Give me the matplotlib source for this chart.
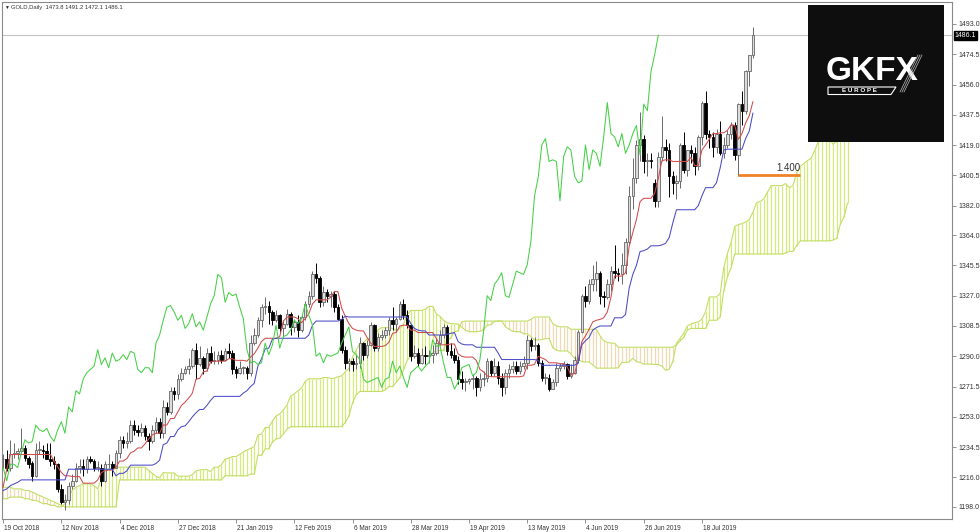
import matplotlib
matplotlib.use("Agg")
import matplotlib.pyplot as plt
from matplotlib.patches import Rectangle, Polygon
from matplotlib.lines import Line2D
import matplotlib.transforms as mtransforms
import numpy as np

plt.rcParams["font.family"] = ["Liberation Sans", "DejaVu Sans"]

# daily OHLC, 19 Oct 2018 .. 7 Aug 2019
opens = [
    1227, 1227, 1222, 1230, 1231, 1232, 1234, 1228, 1225, 1217,
    1233, 1233, 1232, 1227, 1226, 1224, 1209, 1201, 1202, 1211,
    1214, 1222, 1223, 1221, 1227, 1226, 1222, 1222, 1214, 1224,
    1224, 1222, 1231, 1239, 1237, 1238, 1248, 1245, 1244, 1246,
    1241, 1238, 1245, 1250, 1243, 1259, 1256, 1269, 1267, 1276,
    1280, 1282, 1284, 1294, 1285, 1289, 1283, 1292, 1287, 1288,
    1291, 1288, 1293, 1292, 1282, 1280, 1283, 1283, 1280, 1298,
    1303, 1312, 1320, 1321, 1317, 1312, 1315, 1307, 1310, 1316,
    1308, 1311, 1306, 1314, 1322, 1327, 1340, 1338, 1323, 1329,
    1327, 1328, 1320, 1313, 1294, 1286, 1287, 1285, 1286, 1298,
    1291, 1297, 1309, 1295, 1302, 1303, 1306, 1312, 1310, 1313,
    1322, 1315, 1309, 1290, 1292, 1286, 1291, 1290, 1291, 1292,
    1298, 1303, 1308, 1293, 1291, 1288, 1276, 1274, 1275, 1276,
    1277, 1271, 1276, 1277, 1287, 1280, 1284, 1277, 1271, 1280,
    1282, 1284, 1281, 1284, 1286, 1300, 1296, 1297, 1286, 1277,
    1277, 1270, 1274, 1283, 1284, 1285, 1278, 1280, 1288, 1305,
    1327, 1324, 1334, 1337, 1341, 1327, 1326, 1334, 1342, 1341,
    1340, 1346, 1360, 1388, 1399, 1419, 1423, 1409, 1410, 1396,
    1385, 1412, 1418, 1416, 1400, 1396, 1397, 1419, 1404, 1416,
    1414, 1406, 1424, 1445, 1426, 1424, 1418, 1426, 1414, 1419,
    1426, 1431, 1413, 1444, 1440, 1464, 1473.8,
]
highs = [
    1230, 1233, 1239, 1237, 1234, 1246, 1236, 1229, 1226, 1237,
    1238, 1236, 1237, 1237, 1229, 1225, 1212, 1206, 1213, 1218,
    1225, 1227, 1227, 1229, 1229, 1227, 1226, 1224, 1226, 1230,
    1226, 1233, 1241, 1241, 1244, 1251, 1251, 1248, 1249, 1248,
    1243, 1248, 1253, 1252, 1263, 1262, 1271, 1271, 1279, 1283,
    1284, 1289, 1295, 1298, 1296, 1290, 1295, 1296, 1293, 1293,
    1294, 1295, 1298, 1294, 1284, 1287, 1284, 1284, 1303, 1307,
    1314, 1322, 1326, 1324, 1318, 1318, 1316, 1312, 1319, 1317,
    1313, 1315, 1315, 1324, 1330, 1342, 1347, 1339, 1333, 1331,
    1330, 1330, 1322, 1315, 1296, 1289, 1289, 1291, 1302, 1299,
    1300, 1311, 1310, 1304, 1306, 1308, 1314, 1320, 1314, 1324,
    1325, 1318, 1310, 1297, 1295, 1295, 1296, 1294, 1297, 1301,
    1306, 1310, 1309, 1298, 1295, 1290, 1281, 1277, 1277, 1279,
    1278, 1280, 1281, 1289, 1288, 1289, 1287, 1280, 1282, 1285,
    1287, 1287, 1287, 1290, 1303, 1301, 1302, 1298, 1288, 1280,
    1279, 1276, 1286, 1286, 1287, 1286, 1285, 1290, 1306, 1328,
    1333, 1337, 1346, 1348, 1342, 1330, 1337, 1345, 1358, 1344,
    1353, 1362, 1394, 1411, 1422, 1439, 1425, 1414, 1414, 1398,
    1415, 1437, 1423, 1420, 1403, 1401, 1420, 1427, 1416, 1419,
    1418, 1425, 1446, 1452, 1428, 1427, 1429, 1434, 1424, 1428,
    1433, 1433, 1445, 1452, 1465, 1474, 1491.2,
]
lows = [
    1222, 1220, 1220, 1228, 1227, 1231, 1226, 1222, 1214, 1216,
    1230, 1228, 1229, 1223, 1221, 1207, 1200, 1196, 1200, 1209,
    1213, 1219, 1217, 1219, 1225, 1220, 1220, 1211, 1213, 1222,
    1217, 1222, 1228, 1234, 1234, 1237, 1242, 1241, 1241, 1239,
    1233, 1237, 1243, 1240, 1240, 1254, 1255, 1263, 1264, 1275,
    1279, 1279, 1283, 1276, 1284, 1279, 1281, 1286, 1285, 1285,
    1286, 1287, 1289, 1279, 1277, 1279, 1279, 1276, 1278, 1297,
    1302, 1308, 1316, 1310, 1309, 1311, 1305, 1302, 1309, 1303,
    1305, 1302, 1305, 1312, 1320, 1325, 1335, 1320, 1321, 1323,
    1320, 1317, 1312, 1292, 1282, 1281, 1281, 1282, 1283, 1288,
    1289, 1296, 1293, 1293, 1300, 1301, 1303, 1306, 1305, 1312,
    1313, 1307, 1287, 1289, 1284, 1285, 1285, 1286, 1286, 1291,
    1297, 1301, 1291, 1289, 1286, 1273, 1270, 1269, 1273, 1270,
    1266, 1269, 1272, 1274, 1278, 1278, 1273, 1266, 1267, 1277,
    1280, 1279, 1279, 1282, 1282, 1293, 1294, 1284, 1275, 1273,
    1269, 1270, 1272, 1281, 1282, 1276, 1277, 1279, 1286, 1304,
    1320, 1322, 1330, 1330, 1322, 1320, 1325, 1330, 1338, 1336,
    1334, 1340, 1358, 1380, 1396, 1409, 1402, 1400, 1405, 1381,
    1381, 1409, 1409, 1387, 1389, 1386, 1393, 1402, 1400, 1408,
    1401, 1404, 1419, 1423, 1417, 1412, 1414, 1413, 1411, 1417,
    1423, 1410, 1400, 1431, 1438, 1455, 1472.1,
]
closes = [
    1227, 1222, 1230, 1231, 1232, 1234, 1228, 1224, 1217, 1233,
    1233, 1232, 1227, 1226, 1224, 1209, 1201, 1202, 1211, 1214,
    1222, 1223, 1221, 1227, 1226, 1222, 1222, 1214, 1224, 1224,
    1222, 1231, 1239, 1237, 1238, 1248, 1245, 1244, 1246, 1241,
    1238, 1245, 1250, 1243, 1259, 1256, 1269, 1267, 1276, 1280,
    1282, 1284, 1294, 1285, 1289, 1283, 1292, 1287, 1288, 1291,
    1288, 1293, 1292, 1282, 1280, 1283, 1283, 1280, 1298, 1303,
    1312, 1320, 1321, 1317, 1312, 1315, 1307, 1310, 1316, 1308,
    1311, 1306, 1314, 1322, 1327, 1340, 1338, 1323, 1329, 1327,
    1328, 1320, 1313, 1294, 1286, 1287, 1285, 1286, 1298, 1291,
    1297, 1309, 1295, 1302, 1303, 1306, 1312, 1310, 1313, 1322,
    1315, 1309, 1290, 1292, 1286, 1291, 1290, 1291, 1292, 1298,
    1303, 1308, 1293, 1291, 1288, 1276, 1274, 1275, 1276, 1277,
    1271, 1276, 1277, 1287, 1280, 1284, 1277, 1271, 1280, 1282,
    1284, 1281, 1284, 1286, 1300, 1296, 1297, 1286, 1277, 1277,
    1270, 1274, 1283, 1284, 1285, 1278, 1280, 1288, 1305, 1327,
    1324, 1334, 1337, 1341, 1327, 1326, 1334, 1342, 1341, 1340,
    1346, 1360, 1388, 1399, 1419, 1423, 1409, 1410, 1409, 1385,
    1412, 1418, 1416, 1400, 1396, 1397, 1419, 1404, 1416, 1414,
    1406, 1424, 1445, 1426, 1424, 1418, 1426, 1414, 1419, 1426,
    1431, 1413, 1444, 1440, 1464, 1474, 1486.1,
]

# Ichimoku lines as drawn on the chart
tenkan = [
    1210, 1221, 1230, 1230, 1230, 1230, 1230, 1230, 1230, 1230,
    1230, 1230, 1230, 1230, 1226, 1222.5, 1219, 1217, 1217, 1216.5,
    1216.5, 1216.5, 1212.5, 1212.5, 1212.5, 1212.5, 1214.5, 1219, 1220, 1220.5,
    1220.5, 1222, 1226, 1226, 1227.5, 1231, 1232, 1234, 1234, 1236.5,
    1239.5, 1242, 1243, 1243, 1248, 1248, 1252, 1252, 1256, 1260,
    1262, 1264.5, 1267.5, 1276, 1276.5, 1280.5, 1281, 1286.5, 1287, 1287,
    1287, 1287, 1288.5, 1288.5, 1287.5, 1287.5, 1287.5, 1287, 1289.5, 1291.5,
    1295, 1299, 1301, 1301, 1301, 1301, 1302, 1311.5, 1314, 1314,
    1314, 1313, 1310.5, 1313, 1316, 1322, 1324.5, 1324.5, 1324.5, 1324.5,
    1326, 1329.5, 1329.5, 1319.5, 1314.5, 1310, 1307, 1306, 1305.5, 1305.5,
    1301.5, 1298, 1296, 1296, 1296, 1296.5, 1298.5, 1304, 1304.5, 1308.5,
    1309, 1309, 1306, 1306, 1304.5, 1304.5, 1304.5, 1304.5, 1304.5, 1301,
    1297, 1297, 1297, 1297.5, 1297.5, 1291.5, 1290, 1289.5, 1289.5, 1289.5,
    1287.5, 1282, 1280.5, 1278, 1277.5, 1277.5, 1277.5, 1277.5, 1277.5, 1277.5,
    1277.5, 1277.5, 1277.5, 1278, 1284.5, 1284.5, 1285, 1290, 1289, 1288,
    1286, 1286, 1286, 1285.5, 1285.5, 1283.5, 1278.5, 1279.5, 1287.5, 1299,
    1302.5, 1306.5, 1311, 1312, 1312.5, 1313.5, 1317, 1326, 1339, 1339,
    1339, 1341, 1357, 1365.5, 1373.5, 1384.5, 1386.5, 1386.5, 1386.5, 1389.5,
    1398.5, 1409.5, 1410, 1410, 1409, 1409, 1409, 1409, 1409, 1411.5,
    1406.5, 1406.5, 1416, 1419, 1422.5, 1426, 1426, 1426.5, 1426.5, 1428,
    1431.5, 1431, 1422.5, 1426, 1432.5, 1437, 1445.5,
]
kijun = [
    1208, 1209, 1211, 1212, 1213, 1214.5, 1214.5, 1214.5, 1214.5, 1214.5,
    1214.5, 1214.5, 1214.5, 1214.5, 1214.5, 1214.5, 1214.5, 1214.5, 1221, 1221,
    1221, 1221, 1221, 1221, 1221, 1221, 1221, 1221, 1221, 1221,
    1221, 1217, 1218.5, 1218.5, 1220, 1223.5, 1223.5, 1223.5, 1223.5, 1223.5,
    1223.5, 1223.5, 1224.5, 1226.5, 1236, 1237, 1241, 1241, 1245, 1247,
    1247.5, 1250, 1253, 1255.5, 1257.5, 1257.5, 1260, 1263, 1265.5, 1265.5,
    1265.5, 1265.5, 1265.5, 1265.5, 1265.5, 1265.5, 1267.5, 1269, 1271.5, 1273.5,
    1284, 1288.5, 1294.5, 1295, 1300.5, 1301, 1301, 1301, 1301, 1301,
    1301, 1301, 1301, 1301, 1303, 1309, 1311.5, 1311.5, 1311.5, 1311.5,
    1311.5, 1311.5, 1311.5, 1312.5, 1314.5, 1314, 1314, 1314, 1314, 1314,
    1314, 1314, 1314, 1314, 1314, 1314, 1314, 1314, 1314, 1314,
    1314, 1314, 1310, 1307, 1306, 1305.5, 1305.5, 1303, 1303, 1303,
    1303, 1303, 1303.5, 1304, 1304.5, 1299, 1297.5, 1297, 1297, 1297,
    1295.5, 1295.5, 1295.5, 1295.5, 1295.5, 1295.5, 1292, 1288, 1288, 1288,
    1288, 1288, 1288, 1288, 1288, 1288, 1288, 1287.5, 1284.5, 1284.5,
    1284.5, 1284.5, 1284.5, 1284.5, 1284.5, 1284.5, 1284.5, 1284.5, 1286, 1297,
    1299.5, 1301.5, 1306, 1307.5, 1308.5, 1308.5, 1308.5, 1308.5, 1313.5, 1313.5,
    1313.5, 1315.5, 1331.5, 1340, 1345.5, 1354, 1354.5, 1355.5, 1357.5, 1357.5,
    1357.5, 1358, 1359, 1362.5, 1371.5, 1379.5, 1379.5, 1379.5, 1379.5, 1379.5,
    1379.5, 1382, 1388, 1393, 1393, 1393, 1396, 1405, 1416, 1416.5,
    1416.5, 1416.5, 1416.5, 1416.5, 1423, 1427.5, 1438.5,
]

# Senkou spans, already in their drawn position (26 bars ahead)
span_a = [
    1203, 1203, 1204, 1204, 1204, 1204, 1203, 1203, 1202, 1202,
    1201, 1200, 1200, 1199, 1199, 1198, 1198, 1200, 1204, 1208,
    1210, 1211, 1212, 1212, 1212, 1211,
    1209, 1215, 1220.5, 1221, 1221.5, 1222.25, 1222.25, 1222.25, 1222.25, 1222.25,
    1222.25, 1222.25, 1222.25, 1222.25, 1220.25, 1218.5, 1216.75, 1215.75, 1219, 1218.75,
    1218.75, 1218.75, 1216.75, 1216.75, 1216.75, 1216.75, 1217.75, 1220, 1220.5, 1220.75,
    1220.75, 1219.5, 1222.25, 1222.25, 1223.75, 1227.25, 1227.75, 1228.75, 1228.75, 1230,
    1231.5, 1232.75, 1233.75, 1234.75, 1242, 1242.5, 1246.5, 1246.5, 1250.5, 1253.5,
    1254.75, 1257.25, 1260.25, 1265.75, 1267, 1269, 1270.5, 1274.75, 1276.25, 1276.25,
    1276.25, 1276.25, 1277, 1277, 1276.5, 1276.5, 1277.5, 1278, 1280.5, 1282.5,
    1289.5, 1293.75, 1297.75, 1298, 1300.75, 1301, 1301.5, 1306.25, 1307.5, 1307.5,
    1307.5, 1307, 1305.75, 1307, 1309.5, 1315.5, 1318, 1318, 1318, 1318,
    1318.75, 1320.5, 1320.5, 1316, 1314.5, 1312, 1310.5, 1310, 1309.75, 1309.75,
    1307.75, 1306, 1305, 1305, 1305, 1305.25, 1306.25, 1309, 1309.25, 1311.25,
    1311.5, 1311.5, 1308, 1306.5, 1305.25, 1305, 1305, 1303.75, 1303.75, 1302,
    1300, 1300, 1300.25, 1300.75, 1301, 1295.25, 1293.75, 1293.25, 1293.25, 1293.25,
    1291.5, 1288.75, 1288, 1286.75, 1286.5, 1286.5, 1284.75, 1282.75, 1282.75, 1282.75,
    1282.75, 1282.75, 1282.75, 1283, 1286.25, 1286.25, 1286.5, 1288.75, 1286.75, 1286.25,
    1285.25, 1285.25, 1285.25, 1285, 1285, 1284, 1281.5, 1282, 1286.75, 1298,
    1301, 1304, 1308.5, 1309.75, 1310.5, 1311, 1312.75, 1317.25, 1326.25, 1326.25,
    1326.25, 1328.25, 1344.25, 1352.75, 1359.5, 1369.25, 1370.5, 1371, 1372, 1373.5,
    1378, 1383.75, 1384.5, 1386.25, 1390.25, 1394.25, 1394.25, 1394.25, 1394.25, 1395.5,
    1393, 1394.25, 1402, 1406, 1407.75, 1409.5, 1411, 1415.75, 1421.25, 1422.25,
    1424, 1423.75, 1419.5, 1421.25, 1427.75, 1432.25, 1442,
]
span_b = (
    [1210, 1210, 1210, 1209, 1209, 1209, 1208, 1208, 1207, 1206,
     1205, 1204, 1203, 1202, 1201, 1200, 1199]
    + [1198] * 15 + [1214.5] * 29 + [1217] * 7 + [1218] * 2
    + [1229.5, 1229.5, 1233.5, 1233.5, 1237.5, 1239.5, 1240, 1242.5, 1245.5]
    + [1247] * 15
    + [1249.5, 1253.5, 1261.5, 1266.5] + [1268.5] * 7
    + [1269.5, 1271.5, 1271.5, 1274, 1277, 1281.5, 1287.5] + [1290] * 6
    + [1292] + [1293.5] * 3 + [1300.5, 1301, 1305, 1305.5, 1311]
    + [1311.5] * 18 + [1312.5] + [1314] * 5
    + [1310, 1308.5, 1308, 1308, 1308] + [1306.5] * 8
    + [1302.5, 1299.5, 1298.5, 1298, 1298] + [1295.5] * 16
    + [1297, 1299.5, 1301.5, 1306] + [1307] * 5 + [1312] * 3
    + [1314, 1330, 1338.5, 1344] + [1352.5] * 14
    + [1353, 1354, 1354, 1357.5] + [1360.5] * 9
    + [1361, 1362, 1370.5, 1375, 1383.5]
)

date_labels = ["19 Oct 2018", "12 Nov 2018", "4 Dec 2018", "27 Dec 2018",
               "21 Jan 2019", "12 Feb 2019", "6 Mar 2019", "28 Mar 2019",
               "19 Apr 2019", "13 May 2019", "4 Jun 2019", "26 Jun 2019",
               "18 Jul 2019"]
price_ticks = [1493.0, 1474.5, 1456.0, 1437.5, 1419.0, 1400.5, 1382.0, 1364.0,
               1345.5, 1327.0, 1308.5, 1290.0, 1271.5, 1253.0, 1234.5, 1216.0,
               1198.0]
header = "GOLD,Daily  1473.8 1491.2 1472.1 1486.1"
last_price = 1486.1
level_price = 1401.0
level_text = "1.400"
level_from, level_to = 202, 219

W, H = 980, 532
fig = plt.figure(figsize=(W / 100, H / 100), dpi=100)
fig.patch.set_facecolor("white")
ax = fig.add_axes([2 / W, 13 / H, 950 / W, 517 / H])

n = len(closes)
x = np.arange(n)
xc = np.arange(len(span_a))
sa = np.array(span_a)
sb = np.array(span_b)

# cloud: vertical hatch between the spans
up = sa >= sb
ax.vlines(xc[up], sb[up], sa[up], colors="#d2ec7a", linewidth=0.9, zorder=1)
ax.vlines(xc[~up], sa[~up], sb[~up], colors="#f0dab2", linewidth=0.9, zorder=1)
ax.plot(xc, sa, color="#c2de66", linewidth=0.8, zorder=1.5)
ax.plot(xc, sb, color="#c2de66", linewidth=0.8, zorder=1.5)

# candles
o = np.array(opens, dtype=float)
c = np.array(closes, dtype=float)
bull = c >= o
wick_cols = np.where(bull, "#6a6a6a", "#000000")
ax.vlines(x, lows, highs, colors=wick_cols, linewidth=0.7, zorder=3)
bottoms = np.minimum(o, c)
heights = np.maximum(np.abs(c - o), 0.5)
ax.bar(x[bull], heights[bull], bottom=bottoms[bull], width=0.7,
       color="#dcdcdc", edgecolor="#666666", linewidth=0.6, zorder=4)
ax.bar(x[~bull], heights[~bull], bottom=bottoms[~bull], width=0.7,
       color="#000000", edgecolor="#000000", linewidth=0.6, zorder=4)

# ichimoku lines
ax.plot(x, tenkan, color="#d24b4b", linewidth=0.75, zorder=5)
ax.plot(x, kijun, color="#4b4bc8", linewidth=0.75, zorder=5)
ax.plot(x[:n - 26], closes[26:], color="#46d046", linewidth=0.75, zorder=5)

# current price line and the marked level
ax.axhline(last_price, color="#c4c4c4", linewidth=0.8, zorder=0.5)
ax.plot([level_from, level_to], [level_price, level_price],
        color="#f08228", linewidth=2.0, zorder=6, solid_capstyle="butt")
ax.text(level_to, level_price + 1.2, level_text, ha="right", va="bottom",
        fontsize=7, color="#333333", zorder=6)

ax.set_xlim(-0.3, 260.7)
ax.set_ylim(1190.6, 1506.4)

ax.yaxis.tick_right()
ax.set_yticks(price_ticks)
ax.set_yticklabels([f"{v:.1f}" for v in price_ticks])
ax.set_xticks(np.arange(len(date_labels)) * 16)
ax.set_xticklabels(date_labels, ha="left")
ax.tick_params(axis="both", length=3, width=0.6, color="#808080",
               labelcolor="#333333", pad=1.5)
ax.tick_params(axis="y", labelsize=5)
ax.tick_params(axis="x", labelsize=4.7)
for lab in ax.get_xticklabels():
    lab.set_transform(lab.get_transform() + mtransforms.ScaledTranslation(1 / 100, 0, fig.dpi_scale_trans))
for sp in ax.spines.values():
    sp.set_color("#8a8a8a")
    sp.set_linewidth(0.8)

# last price box on the scale
trans = mtransforms.blended_transform_factory(ax.transAxes, ax.transData)
ax.text(1.003, last_price, f"{last_price:.1f}", transform=trans, ha="left",
        va="center", fontsize=5, color="white", zorder=10, clip_on=False,
        bbox=dict(boxstyle="square,pad=0.15", facecolor="black", edgecolor="black"))

# header
fig.text(4 / W, 1 - 7.5 / H, "\u25bc", fontsize=3.5, color="#222222", va="center")
fig.text(11 / W, 1 - 7.5 / H, header, fontsize=4.2, color="#333333", va="center")

# logo
fig.add_artist(Rectangle((808 / W, 1 - 142 / H), 136 / W, 137 / H,
                         transform=fig.transFigure, facecolor="#0e0e0e",
                         edgecolor="none", zorder=20))
fig.text(872 / W, 1 - 71 / H, "GKFX", fontsize=24, fontweight="heavy",
         color="white", ha="center", va="center", zorder=21)
fig.add_artist(Polygon([(828 / W, 1 - 87 / H), (896 / W, 1 - 87 / H),
                        (891 / W, 1 - 94.5 / H), (828 / W, 1 - 94.5 / H)],
                       closed=True, transform=fig.transFigure, facecolor="none",
                       edgecolor="white", linewidth=0.8, zorder=21))
fig.text(859 / W, 1 - 91 / H, "E U R O P E", fontsize=4.5, fontweight="bold",
         color="white", ha="center", va="center", zorder=22)
for k in range(3):
    fig.add_artist(Line2D([(900 + 2 * k) / W, (918 + 2 * k) / W],
                          [1 - 92 / H, 1 - 55 / H], transform=fig.transFigure,
                          color="#bbbbbb", linewidth=0.5, zorder=22))

fig.savefig("out.png", dpi=100)
